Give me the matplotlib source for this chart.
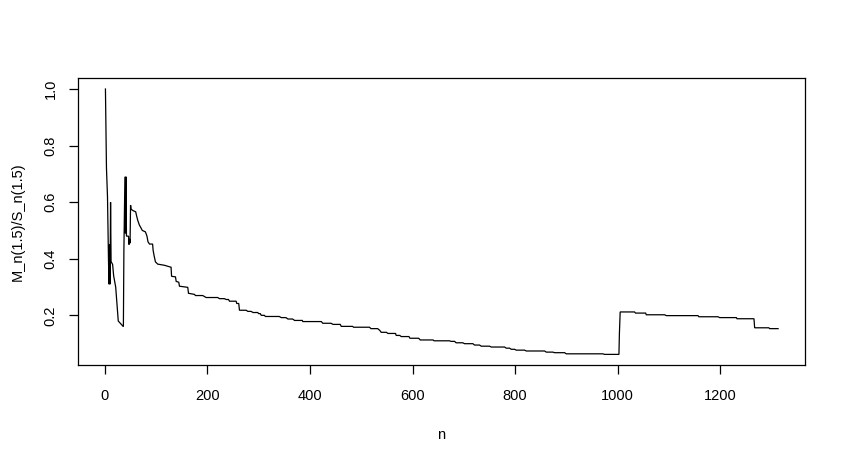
import matplotlib
matplotlib.use("Agg")
import matplotlib.pyplot as plt

plt.rcParams['font.family'] = ['Liberation Sans', 'DejaVu Sans']

# polyline vertices: index n and ratio value
n_early = [1, 2, 3, 5, 7, 8, 9, 10, 11, 12,
           15, 17, 21, 24, 26, 31, 36,
           37, 39, 40, 41, 42, 43, 46, 47, 48, 49,
           50, 51, 55, 60, 62, 64, 67,
           70, 73, 79, 82, 84, 87, 93,
           94, 96, 98.5, 103]
ratio_early = [1.00, 0.87, 0.72, 0.62, 0.39, 0.31, 0.45, 0.31, 0.60, 0.39,
               0.38, 0.34, 0.30, 0.23, 0.18, 0.17, 0.16,
               0.43, 0.69, 0.49, 0.69, 0.48, 0.48, 0.48, 0.45, 0.47, 0.455,
               0.59, 0.575, 0.57, 0.566, 0.55, 0.536, 0.52,
               0.51, 0.50, 0.495, 0.48, 0.46, 0.452, 0.452,
               0.43, 0.41, 0.389, 0.381]

n_mid = [116, 129, 130, 137.6, 139, 144, 145.4, 161.6, 163, 174.6,
         176.6, 190.8, 197.4, 220, 223.4, 233, 236.5, 241, 243, 256,
         257, 261, 262.4, 275.5, 278.8, 285, 289, 298, 300, 303,
         305, 311, 313, 340, 344, 353, 357, 366, 370, 385,
         386, 422, 425, 441, 445, 459, 461, 483, 485, 516,
         519, 532, 536, 539, 549, 552, 567, 568, 575, 578,
         593, 595, 612, 615, 640]
ratio_mid = [0.377, 0.370, 0.338, 0.336, 0.320, 0.317, 0.303, 0.299, 0.278, 0.274,
             0.270, 0.270, 0.263, 0.263, 0.259, 0.259, 0.256, 0.256, 0.250, 0.250,
             0.242, 0.242, 0.218, 0.218, 0.214, 0.214, 0.210, 0.210, 0.206, 0.206,
             0.200, 0.200, 0.196, 0.196, 0.192, 0.192, 0.187, 0.187, 0.182, 0.182,
             0.178, 0.178, 0.172, 0.172, 0.168, 0.168, 0.161, 0.161, 0.158, 0.158,
             0.153, 0.153, 0.147, 0.140, 0.140, 0.136, 0.136, 0.129, 0.129, 0.125,
             0.125, 0.119, 0.119, 0.113, 0.113]

n_late = [642, 672, 675, 682, 685, 698, 701.5, 717.7, 721, 730.7,
          734, 750, 753.6, 779.5, 782.8, 789.3, 792.6, 799, 802.3, 818.5,
          821.9, 857.6, 860.9, 873.8, 877, 896.6, 899.9, 971.3, 974.6, 1002.6,
          1003.5, 1005, 1033, 1035, 1054.6, 1056, 1091.7, 1095, 1156.7, 1158.6,
          1195.7, 1199, 1231.6, 1233, 1266, 1267.3, 1295, 1296.6, 1313]
ratio_late = [0.110, 0.110, 0.108, 0.108, 0.103, 0.103, 0.0998, 0.0998, 0.095, 0.095,
              0.091, 0.091, 0.088, 0.088, 0.084, 0.084, 0.080, 0.080, 0.077, 0.077,
              0.074, 0.074, 0.070, 0.070, 0.068, 0.068, 0.064, 0.064, 0.062, 0.062,
              0.135, 0.212, 0.212, 0.208, 0.208, 0.202, 0.202, 0.199, 0.199, 0.195,
              0.195, 0.192, 0.192, 0.188, 0.188, 0.156, 0.156, 0.153, 0.153]

x_ticks = [0, 200, 400, 600, 800, 1000, 1200]
y_ticks = [0.2, 0.4, 0.6, 0.8, 1.0]
x_label = "n"
y_label = "M_n(1.5)/S_n(1.5)"

n_vals = n_early + n_mid + n_late
ratio_vals = ratio_early + ratio_mid + ratio_late

W, H = 846, 463
fig = plt.figure(figsize=(W / 100, H / 100), dpi=100)
left, right, top, bottom = 78, 805, 78.4, 365
ax = fig.add_axes([left / W, 1 - bottom / H, (right - left) / W, (bottom - top) / H])

ax.plot(n_vals, ratio_vals, color='black', linewidth=0.9, solid_joinstyle='miter')

# R-style 4% axis extension
xmin, xmax = 0, max(n_vals)
ymin, ymax = min(ratio_vals), max(ratio_vals)
dx, dy = (xmax - xmin) * 0.04, (ymax - ymin) * 0.04
ax.set_xlim(xmin - dx, xmax + dx)
ax.set_ylim(ymin - dy, ymax + dy)

ax.set_xticks(x_ticks)
ax.set_xticklabels([str(t) for t in x_ticks])
ax.set_yticks(y_ticks)
ax.set_yticklabels([f"{t:.1f}" for t in y_ticks], rotation=90, va='center')

for s in ax.spines.values():
    s.set_linewidth(0.9)
    s.set_color('black')
ax.tick_params(axis='both', direction='out', length=6.5, width=0.9,
               labelsize=10.5, colors='black')
ax.tick_params(axis='x', pad=11)
ax.tick_params(axis='y', pad=8)

ax.set_xlabel(x_label, fontsize=10.5, labelpad=18)
ax.set_ylabel(y_label, fontsize=10.5, labelpad=14)

fig.savefig("out.png", dpi=100)
